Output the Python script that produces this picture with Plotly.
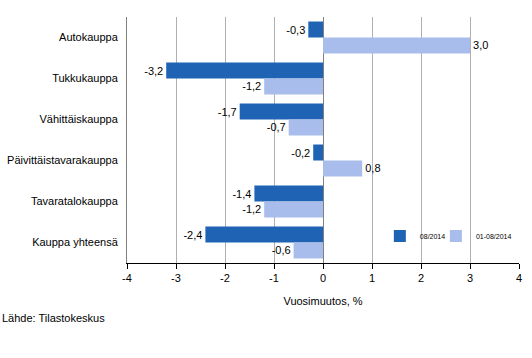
import plotly.graph_objects as go

categories = ["Autokauppa", "Tukkukauppa", "Vähittäiskauppa", "Päivittäistavarakauppa", "Tavaratalokauppa", "Kauppa yhteensä"]
s1_name = "08/2014"
s1 = [-0.3, -3.2, -1.7, -0.2, -1.4, -2.4]
s2_name = "01-08/2014"
s2 = [3.0, -1.2, -0.7, 0.8, -1.2, -0.6]
x_ticks = [-4, -3, -2, -1, 0, 1, 2, 3, 4]

def fmt(v):
    return f"{v:.1f}".replace(".", ",")

fig = go.Figure()
fig.add_trace(go.Bar(y=categories, x=s1, name=s1_name, orientation="h",
                     marker=dict(color="#1F64B4", line=dict(width=0)),
                     text=[fmt(v) for v in s1], textposition="outside",
                     textfont=dict(size=11, color="black"), cliponaxis=False,
                     legend="legend"))
fig.add_trace(go.Bar(y=categories, x=s2, name=s2_name, orientation="h",
                     marker=dict(color="#A8BDEC", line=dict(width=0)),
                     text=[fmt(v) for v in s2], textposition="outside",
                     textfont=dict(size=11, color="black"), cliponaxis=False,
                     legend="legend2"))

leg_common = dict(orientation="h", y=0.11, xanchor="left", yanchor="middle",
                  font=dict(size=7), bgcolor="rgba(0,0,0,0)")

fig.update_layout(
    width=532, height=358,
    margin=dict(l=127, r=13, t=17, b=95, autoexpand=False),
    paper_bgcolor="white", plot_bgcolor="white",
    font=dict(family="Liberation Sans, Arial", size=11, color="black"),
    barmode="group", bargap=0.22, bargroupgap=0,
    showlegend=True,
    legend=dict(x=0.645, **leg_common),
    legend2=dict(x=0.788, **leg_common),
    xaxis=dict(range=[-4, 4], tickvals=x_ticks,
               ticktext=[str(t) for t in x_ticks], automargin=False,
               showgrid=True, gridcolor="#B0B0B0", gridwidth=1,
               zeroline=True, zerolinecolor="#808080", zerolinewidth=1,
               showline=True, linecolor="black", linewidth=1,
               ticks="outside", ticklen=5, tickcolor="black",
               title=dict(text="Vuosimuutos, %", standoff=14, font=dict(size=11))),
    yaxis=dict(autorange="reversed", showgrid=False, showline=True, automargin=False,
               linecolor="#808080", linewidth=1, ticks="", ticklabelstandoff=6),
)
fig.add_annotation(text="Lähde: Tilastokeskus", xref="paper", yref="paper",
                   x=-127/392, y=-(318-263)/246, xanchor="left", yanchor="middle",
                   showarrow=False, font=dict(size=11))
fig.write_html("out.html", config={"displayModeBar": False},
               post_script="document.body.style.margin='0';")
